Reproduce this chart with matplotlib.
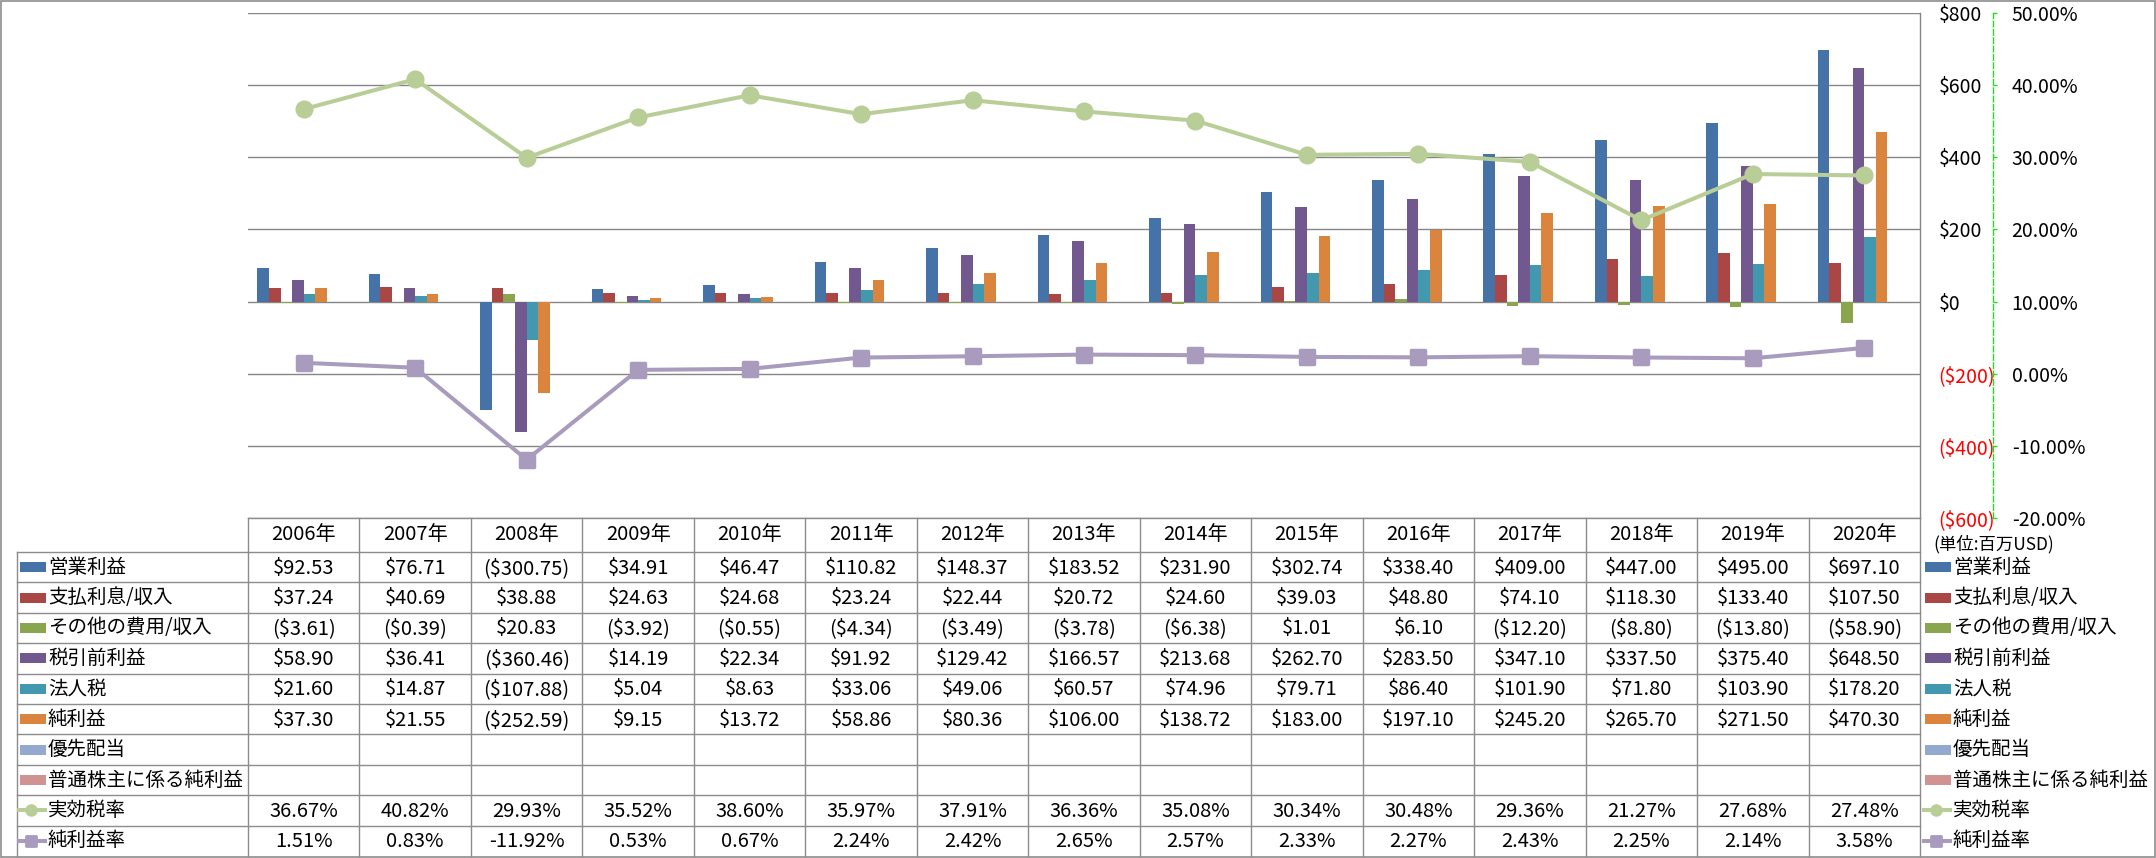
import numpy as np
import matplotlib
matplotlib.use("Agg")
import matplotlib.pyplot as plt
from matplotlib.markers import MarkerStyle
from matplotlib.patches import Rectangle

plt.rcParams['font.family'] = ['Noto Sans CJK JP', 'DejaVu Sans']

# ---------------- data ----------------
years = ["2006年", "2007年", "2008年", "2009年", "2010年", "2011年", "2012年", "2013年",
         "2014年", "2015年", "2016年", "2017年", "2018年", "2019年", "2020年"]

operating_income = [92.53, 76.71, -300.75, 34.91, 46.47, 110.82, 148.37, 183.52,
                    231.90, 302.74, 338.40, 409.00, 447.00, 495.00, 697.10]
interest = [37.24, 40.69, 38.88, 24.63, 24.68, 23.24, 22.44, 20.72,
            24.60, 39.03, 48.80, 74.10, 118.30, 133.40, 107.50]
other = [-3.61, -0.39, 20.83, -3.92, -0.55, -4.34, -3.49, -3.78,
         -6.38, 1.01, 6.10, -12.20, -8.80, -13.80, -58.90]
pretax = [58.90, 36.41, -360.46, 14.19, 22.34, 91.92, 129.42, 166.57,
          213.68, 262.70, 283.50, 347.10, 337.50, 375.40, 648.50]
tax = [21.60, 14.87, -107.88, 5.04, 8.63, 33.06, 49.06, 60.57,
       74.96, 79.71, 86.40, 101.90, 71.80, 103.90, 178.20]
net_income = [37.30, 21.55, -252.59, 9.15, 13.72, 58.86, 80.36, 106.00,
              138.72, 183.00, 197.10, 245.20, 265.70, 271.50, 470.30]
preferred_div = [None, None, None, None, None, None, None, None,
                 None, None, None, None, None, None, None]
common_net = [None, None, None, None, None, None, None, None,
              None, None, None, None, None, None, None]
eff_tax_rate = [36.67, 40.82, 29.93, 35.52, 38.60, 35.97, 37.91, 36.36,
                35.08, 30.34, 30.48, 29.36, 21.27, 27.68, 27.48]
net_margin = [1.51, 0.83, -11.92, 0.53, 0.67, 2.24, 2.42, 2.65,
              2.57, 2.33, 2.27, 2.43, 2.25, 2.14, 3.58]

bar_names = ["営業利益", "支払利息/収入", "その他の費用/収入", "税引前利益",
             "法人税", "純利益", "優先配当", "普通株主に係る純利益"]
bar_series = [operating_income, interest, other, pretax, tax, net_income,
              preferred_div, common_net]
bar_colors = ["#4572A7", "#AA4643", "#89A54E", "#71588F", "#4198AF", "#DB843D",
              "#93A9CF", "#D19392"]
line_names = ["実効税率", "純利益率"]
line_colors = ["#B9CD96", "#A99BBD"]

y1_ticks = [-600, -400, -200, 0, 200, 400, 600, 800]
y2_ticks = [-20, -10, 0, 10, 20, 30, 40, 50]

# ---------------- helpers ----------------
W, H = 2156, 858
def money(v):
    return f"${v:,.2f}" if v >= 0 else f"(${-v:,.2f})"
def money_axis(v):
    return f"${v:,.0f}" if v >= 0 else f"(${-v:,.0f})"

fig = plt.figure(figsize=(W / 100, H / 100), dpi=100)

PL, PR, PT, PB = 248, 1920, 13, 518
ax = fig.add_axes([PL / W, 1 - PB / H, (PR - PL) / W, (PB - PT) / H])
n = len(years)
x = np.arange(n)
bw = 0.104
nb = len(bar_series)
for i, (vals, col) in enumerate(zip(bar_series, bar_colors)):
    v = np.array([0.0 if a is None else a for a in vals], dtype=float)
    ax.bar(x + (i - (nb - 1) / 2) * bw, v, width=bw, color=col, linewidth=0, zorder=3)
ax.set_xlim(-0.5, n - 0.5)
ax.set_ylim(-600, 800)
ax.set_xticks([])
ax.yaxis.grid(True, color="#868686", linewidth=1.0)
ax.set_axisbelow(True)
ax.patch.set_alpha(0)

ax2 = ax.twinx()
ax.yaxis.tick_right()
ax.yaxis.set_label_position("right")
ax.set_yticks(y1_ticks, [money_axis(t) for t in y1_ticks])
for t, lab in zip(y1_ticks, ax.get_yticklabels()):
    lab.set_color("#FF0000" if t < 0 else "#000000")
ax.tick_params(axis='y', length=0, pad=13.5, labelsize=14)
for s in ["left", "top", "bottom"]:
    ax.spines[s].set_visible(False)
ax.spines["right"].set_color("#868686")
ax.spines["right"].set_linewidth(1.0)

ax2.set_ylim(-20, 50)
ax2.set_yticks(y2_ticks, [f"{t:.2f}%" for t in y2_ticks])
for t, lab in zip(y2_ticks, ax2.get_yticklabels()):
    lab.set_color("#FF0000" if t < 0 else "#000000")
for s in ["left", "top", "bottom"]:
    ax2.spines[s].set_visible(False)
ax2.spines["right"].set_position(("outward", 52.5))
ax2.spines["right"].set_color("#22DD22")
ax2.spines["right"].set_linestyle((0, (4, 2)))
ax2.spines["right"].set_linewidth(1.0)
ax2.tick_params(axis='y', direction='out', length=3, width=1, color="#22DD22",
                pad=10.5, labelsize=14)

sq = MarkerStyle('s', joinstyle='round')
ax2.plot(x, eff_tax_rate, color=line_colors[0], lw=2.9, marker='o', ms=12,
         mfc=line_colors[0], mec=line_colors[0], zorder=5)
ax2.plot(x, net_margin, color=line_colors[1], lw=2.9, marker=sq, ms=10.5,
         mfc=line_colors[1], mec=line_colors[1], mew=2.5, zorder=5)

# ---------------- data table ----------------
tab = fig.add_axes([0, 0, 1, 1])
tab.set_xlim(0, W)
tab.set_ylim(H, 0)
tab.axis('off')
gc = "#8C8C8C"
TL, TH_TOP, R0, RH = 17, 518, 552, 30.4
CW = (PR - PL) / n
nrows = 10
TB = R0 + nrows * RH

tab.plot([PL, PR], [TH_TOP, TH_TOP], color=gc, lw=1.0)
for k in range(nrows):
    y = R0 + k * RH
    tab.plot([TL, PR], [y, y], color=gc, lw=1.0)
tab.plot([TL, TL], [R0, TB], color=gc, lw=1.0)
for j in range(n + 1):
    xx = PL + j * CW
    tab.plot([xx, xx], [TH_TOP, TB], color=gc, lw=1.0)
tab.add_patch(Rectangle((1, 1), W - 2.5, H - 2.5, fill=False, edgecolor="#8C8C8C", lw=1.2))

fs = 14.5
fl = 14
for j, yl in enumerate(years):
    tab.text(PL + (j + 0.5) * CW, (TH_TOP + R0) / 2, yl, ha='center', va='center', fontsize=fs)

row_values = bar_series + [eff_tax_rate, net_margin]
row_names = bar_names + line_names
for k in range(nrows):
    yc = R0 + (k + 0.5) * RH
    vals = row_values[k]
    for j in range(n):
        v = vals[j]
        if v is None:
            continue
        s = money(v) if k < 8 else f"{v:.2f}%"
        tab.text(PL + (j + 0.5) * CW, yc + 1, s, ha='center', va='center', fontsize=fs)
    for (kx, tx) in [(20, 48), (1925, 1953)]:
        if k < 8:
            tab.add_patch(Rectangle((kx, yc - 5), 26, 10, color=bar_colors[k], lw=0))
        else:
            col = line_colors[k - 8]
            tab.plot([kx - 3, kx + 27], [yc, yc], color=col, lw=2.9, solid_capstyle='butt')
            if k == 8:
                tab.plot([kx + 11], [yc], marker='o', ms=8, color=col)
            else:
                tab.plot([kx + 11], [yc], marker=sq, ms=7, color=col, mew=2)
        tab.text(tx, yc, row_names[k], ha='left', va='center', fontsize=fl)

tab.text(1933, 544, "(単位:百万USD)", ha='left', va='center', fontsize=12.5)

fig.savefig("out.png", dpi=100)
